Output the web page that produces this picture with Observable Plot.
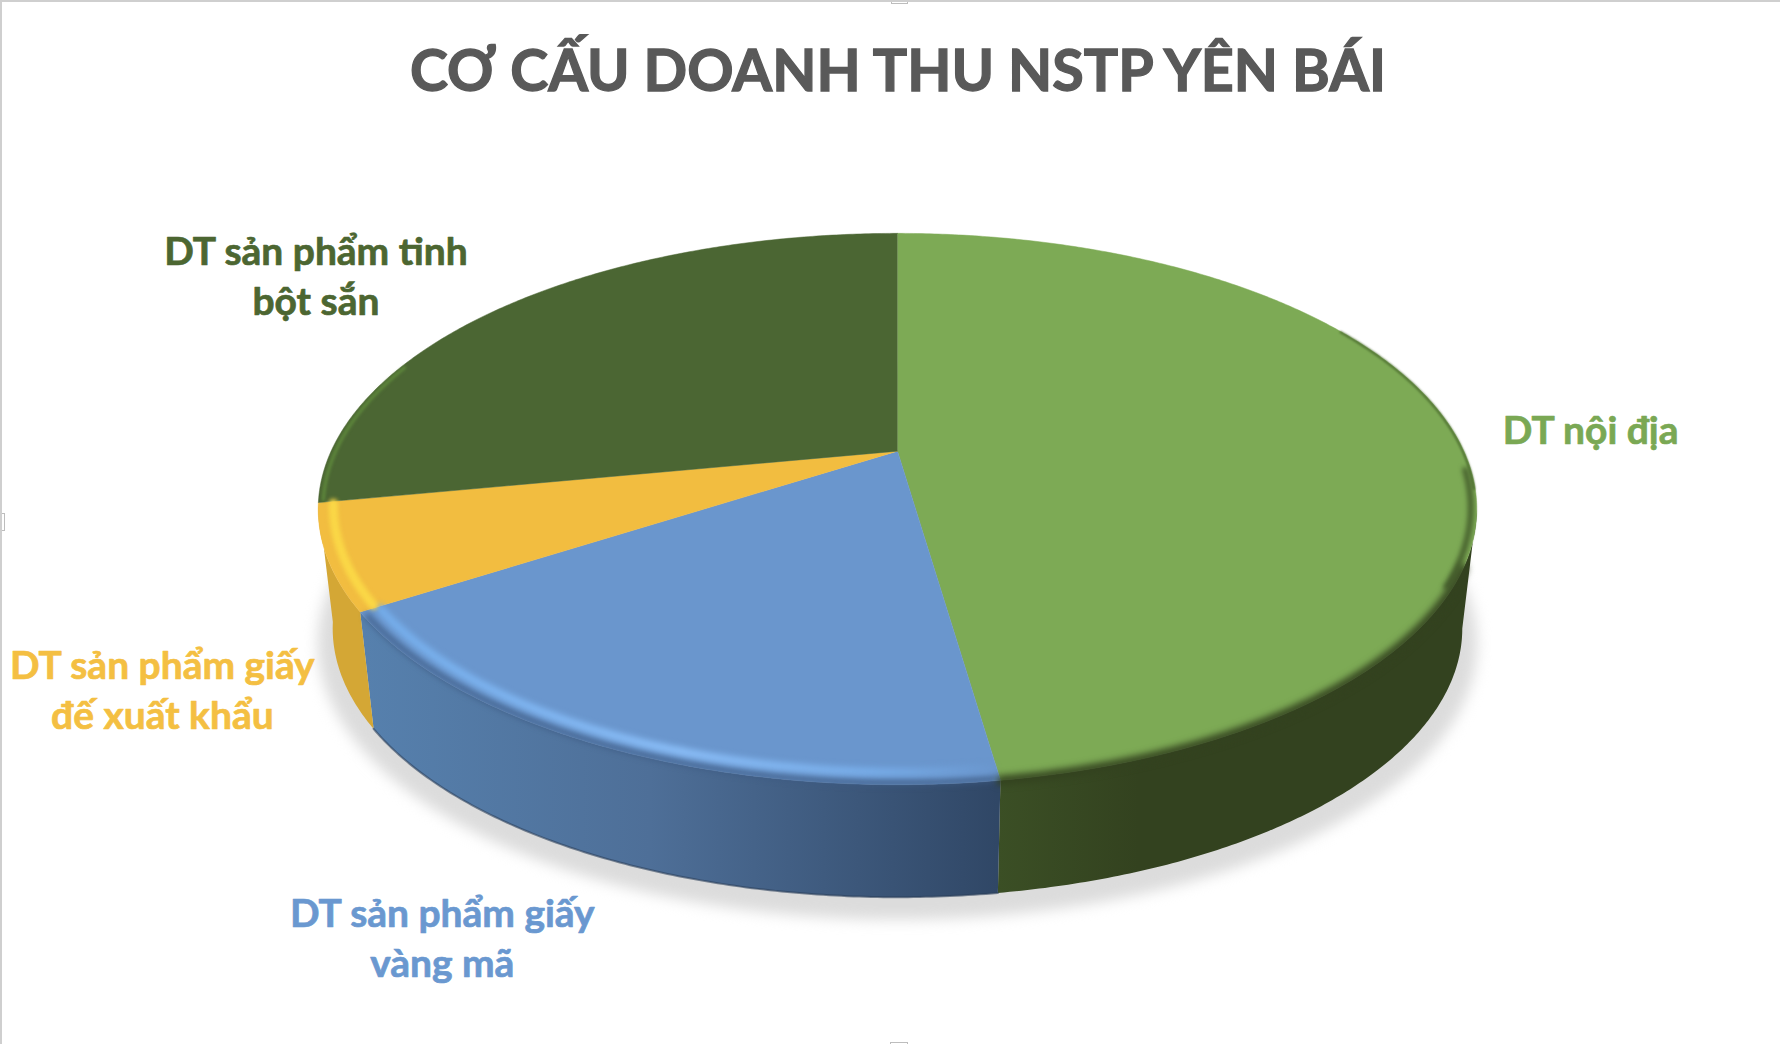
<!DOCTYPE html>
<html lang="vi">
<head>
<meta charset="utf-8">
<script src="https://cdn.jsdelivr.net/npm/d3@7"></script>
<script src="https://cdn.jsdelivr.net/npm/@observablehq/plot@0.6"></script>
<style>
  html, body { margin: 0; padding: 0; background: #fff; }
  #page { position: relative; width: 1780px; height: 1044px; overflow: hidden; box-sizing: border-box;
          border-top: 2px solid #cfcfcf; border-left: 2px solid #cfcfcf; }
  #title { height: 128px; box-sizing: border-box; padding-top: 33px; padding-left: 14px; text-align: center;
           font: 700 57.4px/1.2 Lato, "Open Sans", sans-serif; color: #595959; white-space: nowrap;
           -webkit-text-stroke: 1.3px #595959; }
  svg { display: block; margin-left: -2px; }
  .handle { position: absolute; background: #fff; border: 1px solid #bdbdbd; box-sizing: border-box; }
</style>
</head>
<body>
<div id="page">
  <div id="title">CƠ CẤU DOANH THU NSTP YÊN BÁI</div>
  <div id="chart"></div>
  <div class="handle" style="left:889px;top:-4px;width:17px;height:6px"></div>
  <div class="handle" style="left:-4px;top:511px;width:7px;height:18px"></div>
  <div class="handle" style="left:888px;top:1040px;width:18px;height:6px"></div>
</div>
<script>
// Data (share of revenue, %, clockwise from 12 o'clock)
const categories = ["DT nội địa", "DT sản phẩm giấy vàng mã", "DT sản phẩm giấy đế xuất khẩu", "DT sản phẩm tinh bột sắn"];
const shares = [47.7, 18.2, 6.1, 28.0];
const labels = ["DT nội địa", "DT sản phẩm giấy\nvàng mã", "DT sản phẩm giấy\nđế xuất khẩu", "DT sản phẩm tinh\nbột sắn"];
const faceColors = ["#7daa55", "#6a96cd", "#f2bd40", "#4b6633"];
const textColors = ["#7aa854", "#6a98d0", "#f4bf42", "#4c6631"];

// Layout of the tilted disc
const W = 1780, H = 914, top0 = 130;
const apexX = 898, apexY = 451, unitX = 567, unitY = 263.8, persp = 0.21;
const baseScale = 0.975, baseDrop = 121 / unitY;
const labelRadius = [1.25, 1.449, 1.328, 1.43], labelTurn = [0.05, -0.9, -12.9, -6.35];

const total = d3.sum(shares);
let acc = 0;
const slices = categories.map((name, i) => {
  const a0 = acc / total * 360; acc += shares[i]; const a1 = acc / total * 360;
  return {name, i, a0, a1, mid: (a0 + a1) / 2};
});
// project polar disc coordinates to the plane of the picture
function proj(deg, r = 1, base = false) {
  const t = deg * Math.PI / 180, X = r * Math.sin(t), Y = r * Math.cos(t), w = 1 + persp * Y;
  const x = X / w, y = Y / w;
  return base ? {x: x * baseScale, y: y * baseScale - baseDrop} : {x, y};
}
const arc = (a0, a1, r = 1, base = false) => {
  const n = Math.max(2, Math.ceil(Math.abs(a1 - a0) * 2));
  return d3.range(n + 1).map(k => proj(a0 + (a1 - a0) * k / n, r, base));
};
const face = s => [proj(0, 0), ...arc(s.a0, s.a1)].map(p => ({...p, name: s.name}));
const wall = (a0, a1) => [...arc(a0, a1), ...arc(a1, a0, 1, true)];
const edgeAngle = 90 + Math.asin(persp) * 180 / Math.PI;

const [green, blue, yellow, dark] = slices;

const chart = Plot.plot({
  width: W, height: H, margin: 0,
  x: {domain: [-apexX / unitX, (W - apexX) / unitX], range: [0, W], axis: null},
  y: {domain: [(apexY - top0 - H) / unitY, (apexY - top0) / unitY], range: [H, 0], axis: null},
  color: {domain: categories, range: faceColors},
  marks: [
    // soft shadow
    Plot.line(arc(0, 360, 1.025, true), {x: "x", y: "y", fill: "#dcdcdc", dy: 12, imageFilter: "blur(7px)"}),
    // walls
    Plot.line(wall(edgeAngle, green.a1), {x: "x", y: "y", fill: "url(#wallGreen)"}),
    Plot.line(wall(blue.a0, blue.a1), {x: "x", y: "y", fill: "url(#wallBlue)"}),
    Plot.line(wall(yellow.a0, yellow.a1), {x: "x", y: "y", fill: "#d4a735"}),
    // bottom edge
    Plot.line(arc(blue.a0, blue.a1, 1, true), {x: "x", y: "y", stroke: "#2c3f5a", strokeWidth: 2, strokeOpacity: 0.6}),
    // top faces
    Plot.line(slices.flatMap(face), {x: "x", y: "y", z: "name", fill: "name", stroke: "name", strokeWidth: 0.5}),
    // bevels
    Plot.line(arc(60, 98, 0.998), {x: "x", y: "y", stroke: "#4a6a2e", strokeWidth: 2, imageFilter: "blur(1px)"}),
    Plot.line(arc(94, 118, 0.99), {x: "x", y: "y", stroke: "#3f5628", strokeWidth: 5, imageFilter: "blur(2.5px)"}),
    Plot.line(arc(114, green.a1, 1), {x: "x", y: "y", stroke: "#33421f", strokeWidth: 9, imageFilter: "blur(3.5px)"}),
    Plot.line(arc(blue.a0 + 0.5, blue.a1 - 1, 0.995), {x: "x", y: "y", stroke: "#3d5a82", strokeWidth: 5, imageFilter: "blur(3px)"}),
    Plot.line(arc(blue.a0 + 0.5, blue.a1 - 0.5, 0.97), {x: "x", y: "y", stroke: "url(#bandBlue)", strokeWidth: 8, imageFilter: "blur(3px)"}),
    Plot.line(arc(yellow.a0 + 0.5, yellow.a1 - 0.5, 0.975), {x: "x", y: "y", stroke: "#fad746", strokeWidth: 9, imageFilter: "blur(2px)"}),
    Plot.line(arc(dark.a0 + 0.5, 290, 0.992), {x: "x", y: "y", stroke: "#5f8a3c", strokeWidth: 3, imageFilter: "blur(1.5px)"}),
    // labels
    Plot.text(slices, {
      x: s => proj(s.mid + labelTurn[s.i], labelRadius[s.i]).x,
      y: s => proj(s.mid + labelTurn[s.i], labelRadius[s.i]).y,
      text: s => labels[s.i],
      fill: s => textColors[s.i],
      stroke: s => textColors[s.i], strokeWidth: 0.7,
      fontSize: 39, fontWeight: 700, fontFamily: "Lato, 'Open Sans', sans-serif",
      lineHeight: 1.28, textAnchor: "middle"
    })
  ]
});
// gradients used by the wall and bevel fills
const defs = d3.select(chart).insert("defs", ":first-child");
const grad = (id, x1, x2, stops) => {
  const g = defs.append("linearGradient").attr("id", id).attr("gradientUnits", "userSpaceOnUse")
    .attr("x1", x1).attr("x2", x2).attr("y1", 0).attr("y2", 0);
  stops.forEach(([o, c]) => g.append("stop").attr("offset", o).attr("stop-color", c));
};
grad("wallBlue", 365, 998, [[0, "#5680ad"], [0.45, "#4e6f98"], [1, "#304766"]]);
grad("wallGreen", 998, 1470, [[0, "#3b4f25"], [0.3, "#33421f"], [1, "#33421f"]]);
grad("bandBlue", 365, 998, [[0, "#74aeec"], [0.5, "#8cc0fa"], [0.8, "#78aeea"], [1, "#6a96cd"]]);
document.getElementById("chart").append(chart);
</script>
</body>
</html>
